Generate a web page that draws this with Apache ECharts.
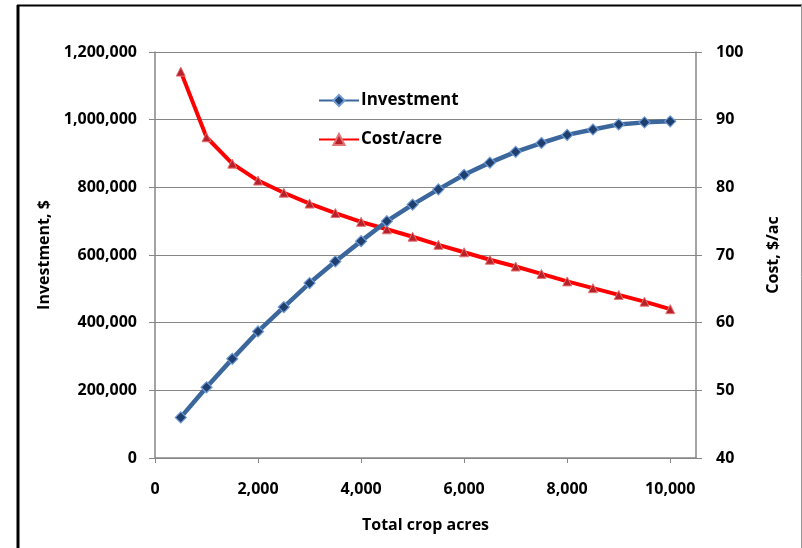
<!DOCTYPE html>
<html>
<head>
<meta charset="utf-8">
<script src="https://cdn.jsdelivr.net/npm/echarts@6/dist/echarts.min.js"></script>
<style>
  html, body { margin: 0; padding: 0; background: #fff; }
  #chart { width: 802px; height: 548px; }
</style>
</head>
<body>
<div id="chart"></div>
<script>
// Farm size vs. equipment investment and per-acre cost
const acres = [500, 1000, 1500, 2000, 2500, 3000, 3500, 4000, 4500, 5000,
               5500, 6000, 6500, 7000, 7500, 8000, 8500, 9000, 9500, 10000];
const investment = [120000, 209000, 293000, 374000, 446000, 517000, 581000, 641000, 700000, 749000,
                    794000, 837000, 873000, 905000, 931000, 955000, 971000, 986000, 992000, 995000];
const costPerAcre = [97.1, 87.4, 83.5, 81.0, 79.2, 77.6, 76.2, 74.9, 73.8, 72.7,
                     71.5, 70.4, 69.3, 68.3, 67.2, 66.1, 65.1, 64.1, 63.1, 62.0];
const xTicks = [0, 2000, 4000, 6000, 8000, 10000];

const fmt = v => v.toLocaleString('en-US');
const FONT = 'Open Sans';
const axisGray = '#868686';
const labelText = { fontFamily: FONT, fontWeight: 'bold', fontSize: 16, color: '#000' };

const chart = echarts.init(document.getElementById('chart'), null, { renderer: 'canvas' });

chart.setOption({
  animation: false,
  backgroundColor: '#ffffff',
  textStyle: { fontFamily: FONT },
  graphic: [
    // frame around the chart
    { type: 'line', shape: { x1: 18, y1: 5, x2: 18, y2: 548 }, style: { stroke: '#000', lineWidth: 3 } },
    { type: 'line', shape: { x1: 17, y1: 5.5, x2: 802, y2: 5.5 }, style: { stroke: '#000', lineWidth: 2 } },
    { type: 'line', shape: { x1: 801.5, y1: 5, x2: 801.5, y2: 548 }, style: { stroke: '#9a9a9a', lineWidth: 1 } }
  ],
  grid: { left: 155, top: 52, right: 106, bottom: 90, containLabel: false },
  legend: {
    left: 313, top: 87, orient: 'vertical',
    itemWidth: 40, itemHeight: 14, itemGap: 22,
    textStyle: { fontFamily: FONT, fontWeight: 'bold', fontSize: 17, color: '#000', padding: [0, 0, 0, -3] },
    data: ['Investment', 'Cost/acre']
  },
  xAxis: {
    type: 'value', min: 0, max: 10500,
    name: 'Total crop acres', nameLocation: 'middle', nameGap: 59,
    nameTextStyle: labelText,
    axisLine: { show: true, lineStyle: { color: axisGray, width: 1.5 } },
    axisTick: { show: true, inside: false, length: 5, customValues: xTicks, lineStyle: { color: axisGray } },
    axisLabel: Object.assign({ customValues: xTicks, formatter: fmt, margin: 23 }, labelText),
    splitLine: { show: false }
  },
  yAxis: [
    {
      type: 'value', min: 0, max: 1200000, interval: 200000, position: 'left',
      name: 'Investment, $', nameLocation: 'middle', nameRotate: 90, nameGap: 100,
      nameTextStyle: labelText,
      axisLine: { show: true, lineStyle: { color: axisGray, width: 1.5 } },
      axisTick: { show: true, inside: false, length: 6, lineStyle: { color: axisGray } },
      axisLabel: Object.assign({ formatter: fmt, margin: 18 }, labelText),
      splitLine: { show: true, lineStyle: { color: axisGray, width: 1.2 } }
    },
    {
      type: 'value', min: 40, max: 100, interval: 10, position: 'right',
      name: 'Cost, $/ac', nameLocation: 'middle', nameRotate: 90, nameGap: 69,
      nameTextStyle: labelText,
      axisLine: { show: true, lineStyle: { color: axisGray, width: 1.5 } },
      axisTick: { show: true, inside: false, length: 6, lineStyle: { color: axisGray } },
      axisLabel: Object.assign({ margin: 20 }, labelText),
      splitLine: { show: false }
    }
  ],
  series: [
    {
      name: 'Investment', type: 'line', yAxisIndex: 0,
      data: acres.map((a, i) => [a, investment[i]]),
      symbol: 'diamond', symbolSize: 11,
      lineStyle: { color: '#3b679c', width: 4.5 },
      itemStyle: { color: '#1f3f6e', borderColor: '#6f9bd6', borderWidth: 1.2 },
      z: 3
    },
    {
      name: 'Cost/acre', type: 'line', yAxisIndex: 1,
      data: acres.map((a, i) => [a, costPerAcre[i]]),
      symbol: 'triangle', symbolSize: 9,
      lineStyle: { color: '#ff0000', width: 4 },
      itemStyle: { color: '#b8202a', borderColor: '#e57373', borderWidth: 1 },
      z: 2
    }
  ]
});
</script>
</body>
</html>
